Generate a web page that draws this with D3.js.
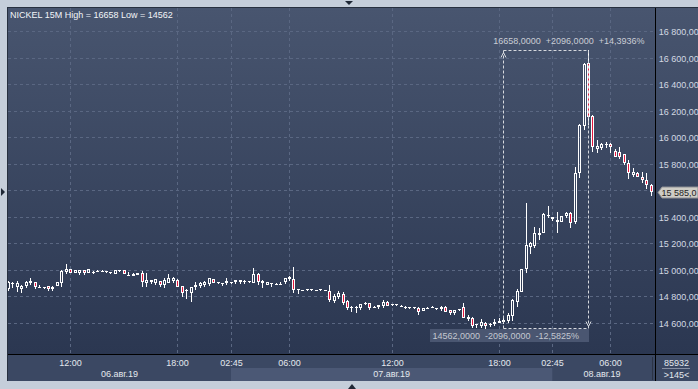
<!DOCTYPE html>
<html><head><meta charset="utf-8">
<script src="https://cdn.jsdelivr.net/npm/d3@7"></script>
<style>html,body{margin:0;padding:0;background:#c5ceda;overflow:hidden}svg{display:block}</style>
</head><body><svg id="c" width="698" height="389"></svg>
<script>
const titleText = "NICKEL 15M High = 16658 Low = 14562";
const opens = [14854,14905,14874,14857,14882,14899,14907,14872,14870,14879,14854,14882,14899,14982,15005,14980,14975,15000,14980,14988,
14995,14994,14994,14982,14972,14997,15000,14963,14957,14962,14980,14899,14907,14899,14917,14887,14904,14917,14924,14879,
14843,14824,14874,14882,14887,14892,14929,14907,14899,14899,14907,14907,14924,14907,14914,14904,14970,14899,14887,14899,
14892,14894,14907,14932,14929,14854,14849,14854,14855,14850,14852,14848,14844,14766,14798,14819,14766,14723,14722,14711,
14748,14748,14723,14718,14728,14761,14740,14741,14731,14723,14718,14717,14711,14690,14715,14723,14711,14703,14723,14698,
14673,14701,14723,14648,14640,14593,14580,14600,14590,14590,14603,14608,14615,14653,14761,14836,15004,15175,15180,15263,
15281,15414,15396,15363,15363,15406,15426,15363,15732,16084,16556,16160,15913,15916,15948,15949,15898,15891,15873,15808,
15715,15728,15703,15677,15640];
const highs = [14915,14907,14917,14887,14917,14937,14910,14887,14872,14880,14877,14912,14998,15045,15008,15003,15003,15003,15008,14990,
14997,15000,14995,14985,15000,15000,15003,14982,14975,14980,14992,14980,14926,14935,14920,14937,14967,14949,14929,14882,
14854,14874,14907,14912,14917,14940,14932,14909,14900,14937,14909,14926,14926,14921,14920,15012,14975,14924,14912,14900,
14904,14912,14940,14954,15020,14856,14852,14857,14858,14852,14859,14850,14885,14819,14844,14836,14770,14725,14725,14744,
14756,14751,14726,14738,14773,14763,14743,14743,14733,14731,14720,14720,14718,14713,14722,14727,14713,14728,14728,14700,
14700,14705,14748,14660,14648,14595,14630,14605,14600,14628,14635,14653,14678,14778,14854,15010,15507,15213,15326,15313,
15431,15482,15399,15434,15409,15434,15434,15778,16100,16556,16658,16165,15979,15958,15966,15959,15908,15929,15875,15828,
15765,15735,15740,15728,15647];
const lows = [14850,14874,14844,14834,14874,14897,14867,14870,14867,14852,14850,14880,14882,14980,14978,14978,14972,14972,14978,14975,
14992,14990,14982,14980,14970,14995,14970,14961,14955,14960,14879,14879,14905,14897,14882,14868,14899,14912,14869,14804,
14786,14769,14857,14869,14882,14890,14902,14904,14887,14894,14904,14905,14905,14905,14908,14899,14894,14874,14885,14882,
14891,14893,14905,14924,14831,14824,14847,14851,14852,14847,14851,14845,14765,14761,14786,14743,14706,14693,14686,14709,
14740,14709,14721,14716,14723,14726,14738,14738,14728,14716,14716,14715,14668,14688,14710,14721,14708,14700,14680,14670,
14670,14698,14635,14623,14572,14567,14572,14562,14578,14585,14598,14603,14610,14623,14728,14832,14987,15125,15175,15233,
15276,15401,15379,15288,15360,15396,15326,15356,15702,16059,16100,15896,15891,15908,15929,15891,15848,15841,15800,15690,
15708,15700,15665,15615,15565];
const closes = [14912,14904,14899,14882,14907,14919,14869,14874,14869,14854,14874,14907,14995,15005,14980,15000,15000,14975,15005,14987,
14994,14995,14993,14983,14997,14998,14972,14965,14972,14977,14907,14924,14924,14932,14884,14924,14937,14942,14874,14824,
14846,14869,14887,14904,14907,14937,14904,14906,14898,14917,14906,14924,14907,14919,14914,14970,14912,14919,14909,14898,
14893,14896,14937,14949,14849,14853,14850,14855,14856,14849,14853,14847,14770,14804,14829,14748,14711,14722,14723,14741,
14748,14711,14724,14736,14761,14728,14741,14740,14730,14723,14717,14718,14686,14711,14716,14724,14710,14723,14686,14673,
14698,14703,14640,14628,14580,14592,14605,14576,14592,14610,14618,14623,14660,14773,14841,15004,15185,15200,15281,15281,
15419,15414,15381,15376,15406,15426,15356,15732,16092,16551,16155,15929,15933,15949,15949,15924,15853,15853,15803,15728,
15740,15703,15677,15640,15585];

const priceTicks = [14600,14800,15000,15200,15400,15600,15800,16000,16200,16400,16600,16800];
const timeTickIndex = [14,38,50,63,86,110,122,135];
const timeTickLabels = ["12:00","18:00","02:45","06:00","12:00","18:00","02:45","06:00"];
const dayLabels = ["06.авг.19","07.авг.19","08.авг.19"];
const dayStartIndex = [0,50,122];
const lastPrice = 15585;
const measureIndex = [111,130];
const measurePrices = [14562,16658];
const volumeText = "85932";
const barsText = ">145<";

const svg = d3.select("#c");
const plotL = 8, plotR = 655, plotT = 8, plotB = 354, axisB = 381;
const n = opens.length;
const x = d3.scaleLinear().domain([0, n-1]).range([7.8, 650.5]);
const y = d3.scaleLinear().domain([14600, 16800]).range([323, 31]);
const font = "'Liberation Sans', Arial, sans-serif";

const defs = svg.append("defs");
const g1 = defs.append("linearGradient").attr("id","bg").attr("x1",0).attr("y1",0).attr("x2",0).attr("y2",1);
g1.append("stop").attr("offset","0%").attr("stop-color","#48556f");
g1.append("stop").attr("offset","100%").attr("stop-color","#2b3751");
defs.append("clipPath").attr("id","plotclip").append("rect")
  .attr("x",plotL).attr("y",plotT).attr("width",plotR-plotL).attr("height",plotB-plotT);

// frame
svg.append("rect").attr("width",698).attr("height",389).attr("fill","#c5ceda");
svg.append("rect").attr("x",7).attr("y",7).attr("width",691).attr("height",axisB-7).attr("fill","#27303f");
svg.append("rect").attr("x",plotL).attr("y",plotT).attr("width",698-plotL).attr("height",plotB-plotT).attr("fill","url(#bg)");
svg.append("rect").attr("x",plotL).attr("y",plotB).attr("width",698-plotL).attr("height",axisB-plotB).attr("fill","#3b4863");

// frame triangles
svg.append("path").attr("d","M345,1 L353,1 L349,5 Z").attr("fill","#1f2836");
svg.append("path").attr("d","M348,389 L356,389 L352,384 Z").attr("fill","#1f2836");
svg.append("path").attr("d","M1,188 L1,196 L5,192 Z").attr("fill","#1f2836");

// date bands
const bandEdges = dayStartIndex.map((d,i)=> i===0 ? plotL : x(d)).concat([651.7]);
dayLabels.forEach((lab,i)=>{
  const x0 = bandEdges[i], x1 = bandEdges[i+1];
  if (i % 2 === 1) svg.append("rect").attr("x",x0).attr("y",368).attr("width",x1-x0).attr("height",axisB-368).attr("fill","#4b5875");
  svg.append("text").attr("x",(x0+x1)/2).attr("y",376.7).attr("text-anchor","middle")
    .attr("font-family",font).attr("font-size",9).attr("fill","#e4e8ee").text(lab);
});

// grid
const grid = svg.append("g").attr("clip-path","url(#plotclip)");
grid.selectAll("line.h").data(priceTicks).join("line")
  .attr("x1",plotL).attr("x2",plotR).attr("y1",d=>Math.round(y(d))+0.5).attr("y2",d=>Math.round(y(d))+0.5)
  .attr("stroke","#5a6782").attr("stroke-dasharray","3,3");
grid.selectAll("line.v").data(timeTickIndex).join("line")
  .attr("x1",d=>Math.round(x(d))+0.5).attr("x2",d=>Math.round(x(d))+0.5).attr("y1",plotT).attr("y2",plotB)
  .attr("stroke","#5a6782").attr("stroke-dasharray","3,3");

// title
svg.append("text").attr("x",10).attr("y",18.3).attr("font-family",font).attr("font-size",9)
  .attr("fill","#f2f4f8").text(titleText);

// candles
const cg = svg.append("g").attr("clip-path","url(#plotclip)");
for (let i=0;i<n;i++){
  const o=opens[i], h=highs[i], l=lows[i], c=closes[i];
  const cx = Math.round(x(i));
  const top = Math.round(y(Math.max(o,c))), bot = Math.round(y(Math.min(o,c)));
  const yh = Math.round(y(h)), yl = Math.round(y(l));
  if (bot - top < 2) {
    cg.append("line").attr("x1",cx+0.5).attr("x2",cx+0.5).attr("y1",yh).attr("y2",yl+1).attr("stroke","#fff");
    cg.append("line").attr("x1",cx-1).attr("x2",cx+2).attr("y1",top+0.5).attr("y2",top+0.5).attr("stroke","#fff");
  } else {
    if (yh < top) cg.append("line").attr("x1",cx+0.5).attr("x2",cx+0.5).attr("y1",yh).attr("y2",top).attr("stroke","#fff");
    if (yl > bot) cg.append("line").attr("x1",cx+0.5).attr("x2",cx+0.5).attr("y1",bot).attr("y2",yl+1).attr("stroke","#fff");
    cg.append("rect").attr("x",cx-0.5).attr("y",top+0.5).attr("width",2).attr("height",bot-top-1)
      .attr("fill", c < o ? "#e3173e" : "none").attr("stroke","#fff");
  }
}

// measurement annotation
const mx0 = Math.round(x(measureIndex[0]))+0.5, mx1 = Math.round(x(measureIndex[1]))+0.5;
const my0 = Math.round(y(measurePrices[1]))+0.5, my1 = Math.round(y(measurePrices[0]))+0.5;
const ann = svg.append("g").attr("stroke","#d6d9de").attr("fill","none");
[[mx0,my0,mx1,my0],[mx0,my1,mx1,my1],[mx0,my0,mx0,my1],[mx1,my0,mx1,my1]].forEach(s=>{
  ann.append("line").attr("x1",s[0]).attr("y1",s[1]).attr("x2",s[2]).attr("y2",s[3]).attr("stroke-dasharray","3,2");
});
ann.append("path").attr("d",`M${mx0-2.5},${my0+7} L${mx0},${my0+2} L${mx0+2.5},${my0+7}`);
ann.append("path").attr("d",`M${mx1-2.5},${my1-7} L${mx1},${my1-2} L${mx1+2.5},${my1-7}`);
const diff = measurePrices[1]-measurePrices[0];
const fmt4 = v => d3.format(".4f")(v).replace(".",",");
const upText = `${fmt4(measurePrices[1])}  +${fmt4(diff)}  +${fmt4(diff/measurePrices[0]*100)}%`;
const dnText = `${fmt4(measurePrices[0])}  -${fmt4(diff)}  -${fmt4(diff/measurePrices[1]*100)}%`;
svg.append("text").attr("x",493.3).attr("y",44).attr("font-family",font).attr("font-size",9)
  .attr("fill","#c9cdd5").style("white-space","pre").text(upText);
svg.append("rect").attr("x",430).attr("y",329).attr("width",159).attr("height",13).attr("fill","#4a5671");
svg.append("text").attr("x",432.5).attr("y",338.5).attr("font-family",font).attr("font-size",9)
  .attr("fill","#c3c8d0").style("white-space","pre").text(dnText);

// axes lines
svg.append("line").attr("x1",plotL).attr("x2",698).attr("y1",plotB+0.5).attr("y2",plotB+0.5).attr("stroke","#000");
svg.append("line").attr("x1",plotR+0.5).attr("x2",plotR+0.5).attr("y1",plotT).attr("y2",axisB).attr("stroke","#000");
svg.append("line").attr("x1",652.5).attr("x2",652.5).attr("y1",357).attr("y2",380).attr("stroke","#2c3446");

// price axis labels (the one under the last-price tag is hidden, as in the source chart)
const loc = d3.formatLocale({decimal:",", thousands:"\u00a0", grouping:[3], currency:["",""]});
const fp = loc.format(",.2f");
const fp1 = loc.format(",.1f");
const ly = Math.round(y(lastPrice))+0.5;
svg.selectAll("text.py").data(priceTicks.filter(d=>Math.abs(y(d)-ly)>9)).join("text")
  .attr("x",658.7).attr("y",d=>Math.round(y(d))+3.5).attr("font-family",font).attr("font-size",9)
  .attr("fill","#d3d9e2").text(d=>fp(d));

// last price tag
svg.append("path").attr("d",`M658,${ly} L662,${ly-5.5} L698,${ly-5.5} L698,${ly+5.5} L662,${ly+5.5} Z`)
  .attr("fill","#cfcdc6").attr("stroke","#8d8f94");
svg.append("text").attr("x",661.5).attr("y",ly+3.5).attr("font-family",font).attr("font-size",9)
  .attr("fill","#1e1e24").text(fp1(lastPrice));

// time axis labels
svg.selectAll("text.tx").data(timeTickIndex).join("text")
  .attr("x",d=>Math.round(x(d))+0.5).attr("y",366).attr("text-anchor","middle")
  .attr("font-family",font).attr("font-size",9).attr("fill","#e4e8ee").text((d,i)=>timeTickLabels[i]);

// corner info
svg.append("text").attr("x",676.5).attr("y",366).attr("text-anchor","middle").attr("font-family",font)
  .attr("font-size",9).attr("fill","#e4e8ee").text(volumeText);
svg.append("line").attr("x1",662).attr("x2",690).attr("y1",368.5).attr("y2",368.5).attr("stroke","#8790a3");
svg.append("text").attr("x",676.5).attr("y",378).attr("text-anchor","middle").attr("font-family",font)
  .attr("font-size",9).attr("fill","#e4e8ee").text(barsText);
</script></body></html>
